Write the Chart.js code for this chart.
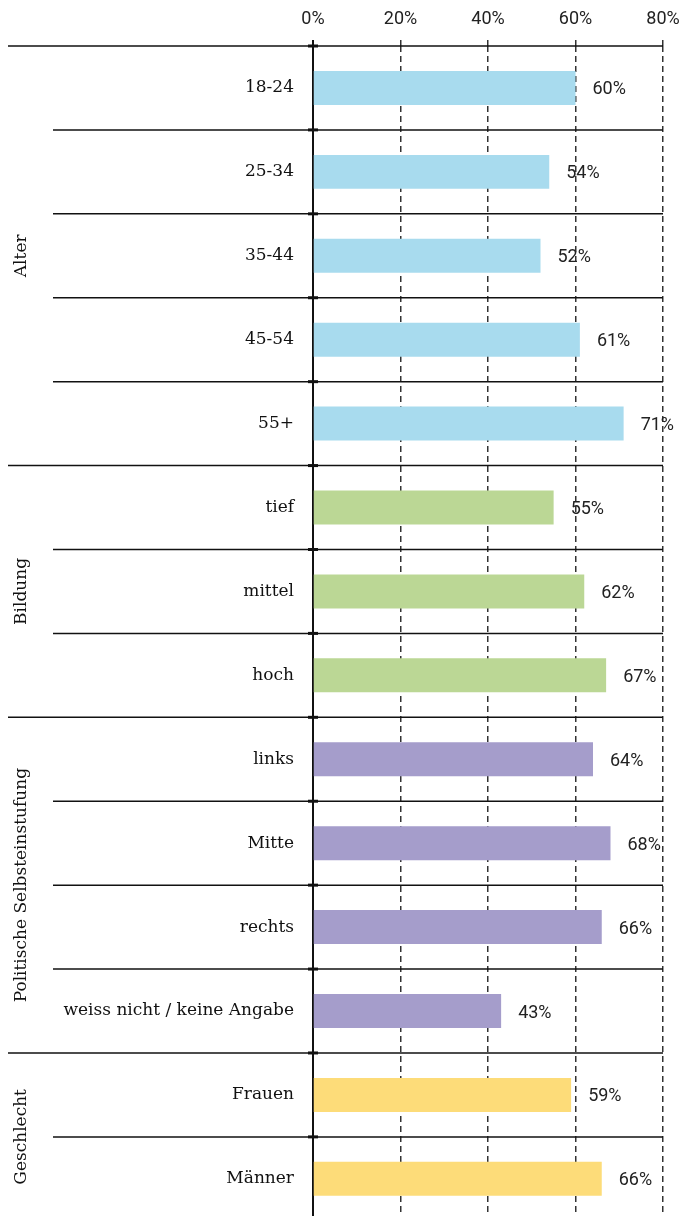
<!DOCTYPE html>
<html>
<head>
<meta charset="utf-8">
<script src="https://cdn.jsdelivr.net/npm/chart.js@4"></script>
<style>
  html, body { margin: 0; padding: 0; background: #fff; overflow: hidden; }
</style>
</head>
<body>
<canvas id="chart" width="683" height="1242"></canvas>
<script>
// categories and values
var categories = ['18-24', '25-34', '35-44', '45-54', '55+',
  'tief', 'mittel', 'hoch',
  'links', 'Mitte', 'rechts', 'weiss nicht / keine Angabe',
  'Frauen', 'Männer']
var values = [60, 54, 52, 61, 71, 55, 62, 67, 64, 68, 66, 43, 59, 66]
var groups = ['Alter', 'Bildung', 'Politische Selbsteinstufung', 'Geschlecht']
var groupSizes = [5, 3, 4, 2]
var groupColors = ['#a8dbee', '#bbd795', '#a59dcb', '#fddc79']
var xTicks = [0, 20, 40, 60, 80]

var labelFont = '"DejaVu Serif", "Liberation Serif", serif'
var tickFont = '"Liberation Sans Narrow", Roboto, sans-serif'

var barColors = []
var groupStart = []
groupSizes.forEach(function (n, g) {
  groupStart.push(barColors.length)
  for (var i = 0; i < n; i++) barColors.push(groupColors[g])
})

var rowsPlugin = {
  id: 'rows',
  beforeDatasetsDraw(chart) {
    var ctx = chart.ctx
    var area = chart.chartArea
    var y = chart.scales.y
    var x = chart.scales.x
    var x0 = x.getPixelForValue(0)
    ctx.save()
    ctx.strokeStyle = '#111'
    for (var i = 0; i < categories.length; i++) {
      var yy = i === 0 ? area.top
        : (y.getPixelForTick(i - 1) + y.getPixelForTick(i)) / 2
      var left = groupStart.indexOf(i) >= 0 ? 8 : 53
      ctx.lineWidth = 1.5
      ctx.beginPath()
      ctx.moveTo(left, yy)
      ctx.lineTo(area.right, yy)
      ctx.stroke()
      // little cross mark on the zero line
      ctx.lineWidth = 3
      ctx.beginPath()
      ctx.moveTo(x0 - 5, yy)
      ctx.lineTo(x0 + 5, yy)
      ctx.stroke()
    }
    // solid zero line
    ctx.lineWidth = 2
    ctx.beginPath()
    ctx.moveTo(x0, area.top - 6)
    ctx.lineTo(x0, area.bottom)
    ctx.stroke()
    ctx.restore()
  },
  afterDatasetsDraw(chart) {
    var ctx = chart.ctx
    var y = chart.scales.y
    var meta = chart.getDatasetMeta(0)
    ctx.save()
    ctx.fillStyle = '#222'
    ctx.font = '18px ' + tickFont
    ctx.textAlign = 'left'
    ctx.textBaseline = 'middle'
    meta.data.forEach(function (bar, i) {
      ctx.fillText(values[i] + '%', bar.x + 17, bar.y + 2)
    })
    // group titles, rotated
    ctx.font = '17px ' + labelFont
    ctx.fillStyle = '#111'
    ctx.textAlign = 'center'
    groupSizes.forEach(function (n, g) {
      var s = groupStart[g]
      var e = s + n - 1
      var cy = (y.getPixelForTick(s) + y.getPixelForTick(e)) / 2
      ctx.save()
      ctx.translate(22, cy)
      ctx.rotate(-Math.PI / 2)
      ctx.fillText(groups[g], 0, 0)
      ctx.restore()
    })
    ctx.restore()
  }
}

new Chart(document.getElementById('chart'), {
  type: 'bar',
  data: {
    labels: categories,
    datasets: [{
      data: values,
      backgroundColor: barColors,
      categoryPercentage: 1,
      barPercentage: 0.405
    }]
  },
  options: {
    indexAxis: 'y',
    responsive: false,
    animation: false,
    layout: { padding: 0 },
    plugins: { legend: { display: false }, tooltip: { enabled: false } },
    scales: {
      x: {
        position: 'top',
        min: 0,
        max: 80,
        afterBuildTicks(scale) {
          scale.ticks = xTicks.map(function (v) { return { value: v } })
        },
        afterFit(scale) {
          scale.height = 46
          scale.paddingLeft = 0
          scale.paddingRight = 20
        },
        ticks: {
          color: '#222',
          padding: 10,
          font: { family: tickFont, size: 18 },
          callback: function (v) { return v + '%' }
        },
        grid: {
          color: function (c) { return c.tick && c.tick.value === 0 ? 'rgba(0,0,0,0)' : '#333' },
          lineWidth: 1.5,
          tickLength: 6,
          tickBorderDash: [6, 4]
        },
        border: { display: false, dash: [6, 4] }
      },
      y: {
        afterFit(scale) { scale.width = 313 },
        ticks: {
          color: '#111',
          padding: 11,
          font: { family: labelFont, size: 17 }
        },
        grid: { display: false },
        border: { display: false }
      }
    }
  },
  plugins: [rowsPlugin]
})
</script>
</body>
</html>
